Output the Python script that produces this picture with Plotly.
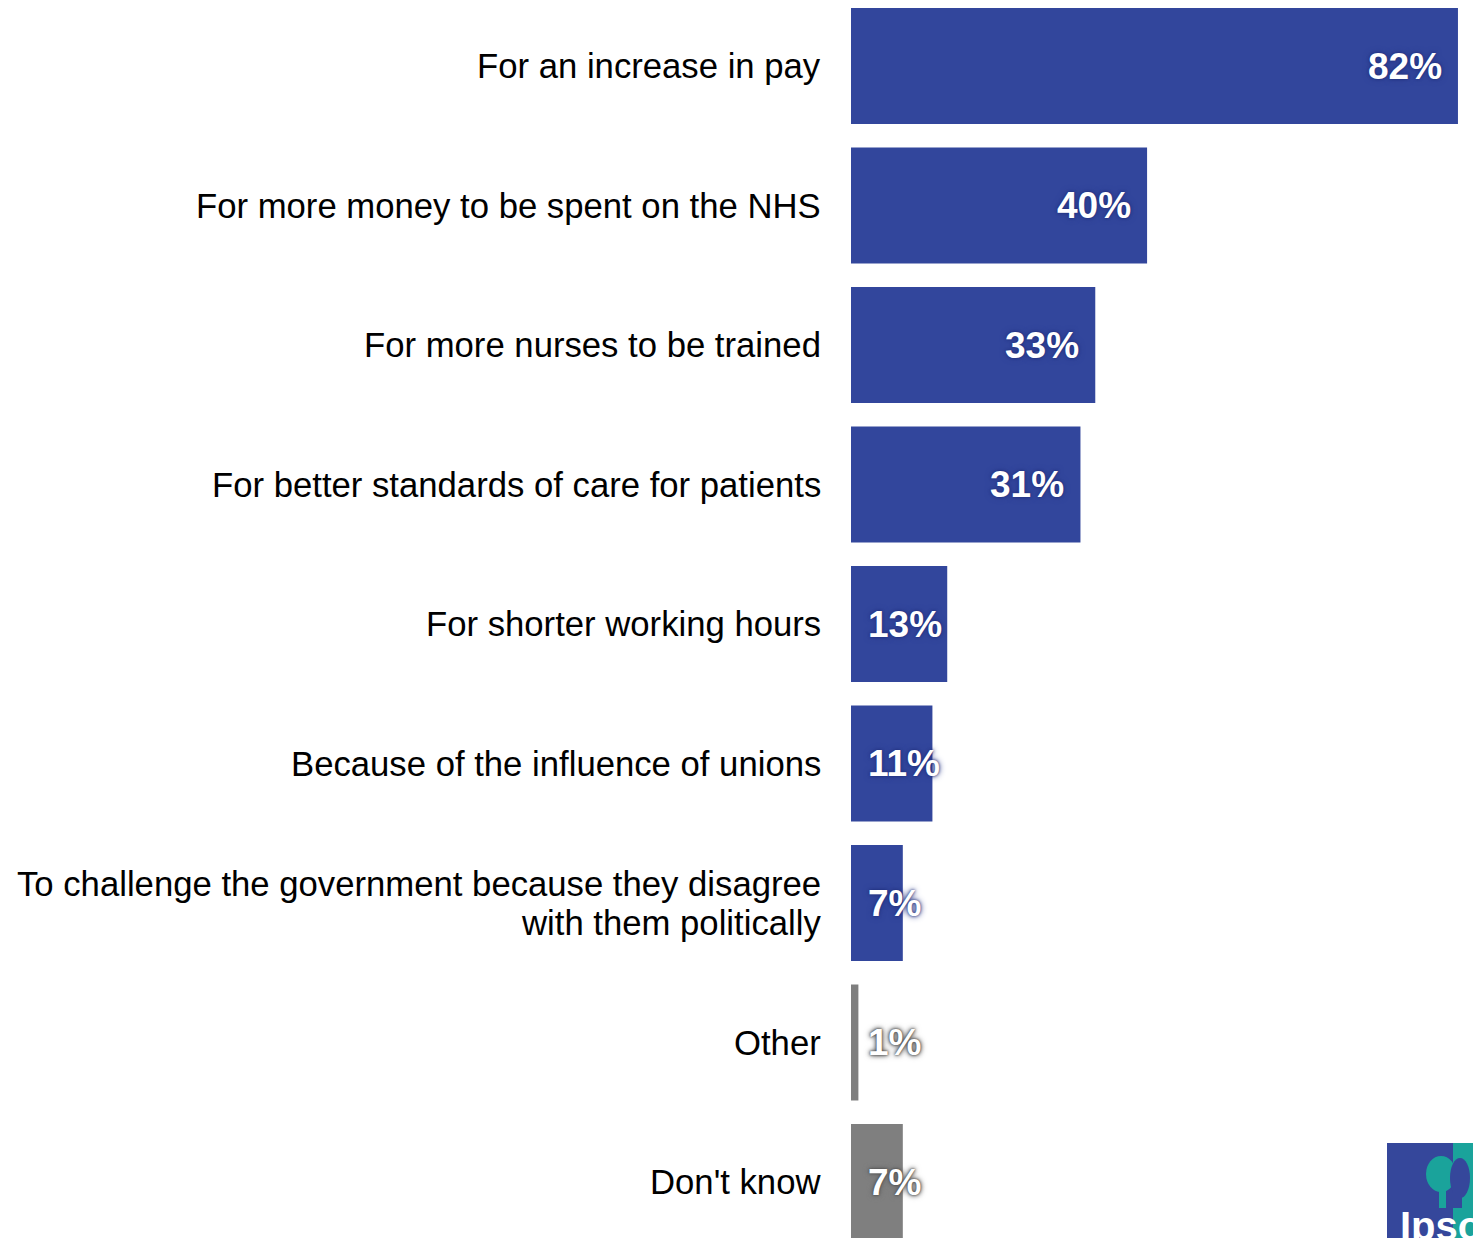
import plotly.graph_objects as go

categories = [
    "For an increase in pay",
    "For more money to be spent on the NHS",
    "For more nurses to be trained",
    "For better standards of care for patients",
    "For shorter working hours",
    "Because of the influence of unions",
    "To challenge the government because they disagree<br>with them politically",
    "Other",
    "Don't know",
]
values = [82, 40, 33, 31, 13, 11, 7, 1, 7]
grey_categories = ["Other", "Don't know"]

BLUE = "#32469C"
GREY = "#7F7F7F"
W, H = 1473, 1238
L = 851
PW = W - L
PX_PER_PCT = 7.402
PITCH = 139.5
FONT = "Liberation Sans, Arial, sans-serif"

colors = [GREY if c in grey_categories else BLUE for c in categories]

top_center = 66
y_top = -top_center / PITCH
y_bot = (len(categories) - 1) + (H - (top_center + (len(categories) - 1) * PITCH)) / PITCH

fig = go.Figure()
fig.add_trace(go.Bar(
    x=values, y=categories, orientation="h",
    marker=dict(color=colors, line=dict(width=0)),
    width=116 / PITCH, hoverinfo="skip",
))

annotations = []
# category labels
for c in categories:
    lines = c.split("<br>")
    n = len(lines)
    for i, ln in enumerate(lines):
        shift = (i - (n - 1) / 2) * 39
        annotations.append(dict(
            x=0, xref="paper", y=c, yref="y", text=ln, showarrow=False,
            xanchor="right", yanchor="middle", xshift=-28, yshift=-shift,
            font=dict(family=FONT, size=34.7, color="#000000"),
        ))
# value labels
for c, v, col in zip(categories, values, colors):
    if col == BLUE:
        shadow = "0px 0px 3px #1c2a75, 0px 0px 6px #2a3a8a"
    else:
        shadow = "0px 0px 2px #444444, 0px 0px 4px #555555, 0px 0px 6px #777777"
    if v >= 20:
        a = dict(x=v, xanchor="right", xshift=-14)
    else:
        a = dict(x=0, xanchor="left", xshift=15)
    a.update(dict(
        xref="x", y=c, yref="y", text=f"{v}%", showarrow=False, yanchor="middle",
        font=dict(family=FONT, size=37, color="#FFFFFF", weight="bold", shadow=shadow),
    ))
    annotations.append(a)


# Ipsos logo (bottom right, partly cut) - screen coords to paper
def px(x):
    return (x - L) / PW


def py(y):
    return 1 - y / H


TEAL = "#1AA39B"
LOGO_BLUE = "#35479B"
shapes = [
    dict(type="rect", xref="paper", yref="paper", x0=px(1387), x1=px(1473), y0=py(1238), y1=py(1143),
         fillcolor=LOGO_BLUE, line=dict(width=0), layer="above"),
    dict(type="rect", xref="paper", yref="paper", x0=px(1453), x1=px(1473), y0=py(1238), y1=py(1143),
         fillcolor=TEAL, line=dict(width=0), layer="above"),
    dict(type="circle", xref="paper", yref="paper", x0=px(1426), x1=px(1456), y0=py(1192), y1=py(1156),
         fillcolor=TEAL, line=dict(width=0), layer="above"),
    dict(type="rect", xref="paper", yref="paper", x0=px(1439), x1=px(1446), y0=py(1208), y1=py(1185),
         fillcolor=TEAL, line=dict(width=0), layer="above"),
    dict(type="circle", xref="paper", yref="paper", x0=px(1450), x1=px(1470), y0=py(1198), y1=py(1158),
         fillcolor=LOGO_BLUE, line=dict(width=0), layer="above"),
    dict(type="rect", xref="paper", yref="paper", x0=px(1453), x1=px(1462), y0=py(1208), y1=py(1190),
         fillcolor=LOGO_BLUE, line=dict(width=0), layer="above"),
]
annotations.append(dict(
    x=px(1398), xref="paper", y=py(1250), yref="paper", text="<b>Ipsos</b>", showarrow=False,
    xanchor="left", yanchor="bottom", font=dict(family=FONT, size=40, color="#FFFFFF"),
))

fig.update_layout(
    width=W, height=H,
    margin=dict(l=L, r=0, t=0, b=0, pad=0),
    paper_bgcolor="white", plot_bgcolor="white",
    showlegend=False,
    xaxis=dict(range=[0, PW / PX_PER_PCT], visible=False, fixedrange=True),
    yaxis=dict(type="category", categoryorder="array", categoryarray=categories,
               range=[y_bot, y_top], showticklabels=False, showgrid=False,
               zeroline=False, showline=False, ticks="", fixedrange=True),
    annotations=annotations,
    shapes=shapes,
)

fig.write_html(
    "out.html",
    config={"displayModeBar": False},
    post_script="document.body.style.margin='0';document.body.style.overflow='hidden';",
)
